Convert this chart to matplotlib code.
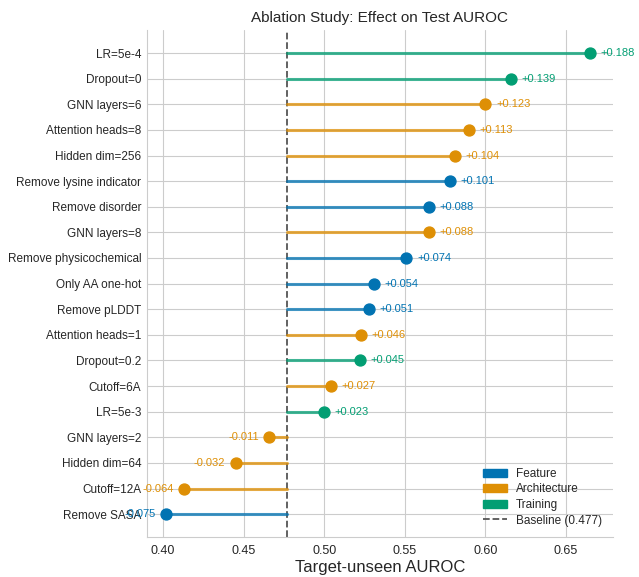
import numpy as np
import matplotlib
matplotlib.use("Agg")
import matplotlib.pyplot as plt
import seaborn as sns
from matplotlib.patches import Patch
from matplotlib.lines import Line2D

sns.set_style("whitegrid")
plt.rcParams['font.family'] = ['Liberation Sans', 'DejaVu Sans']

baseline = 0.477

# ablations, top to bottom
names = ["LR=5e-4", "Dropout=0", "GNN layers=6", "Attention heads=8", "Hidden dim=256",
         "Remove lysine indicator", "Remove disorder", "GNN layers=8", "Remove physicochemical",
         "Only AA one-hot", "Remove pLDDT", "Attention heads=1", "Dropout=0.2", "Cutoff=6A",
         "LR=5e-3", "GNN layers=2", "Hidden dim=64", "Cutoff=12A", "Remove SASA"]
deltas = [0.188, 0.139, 0.123, 0.113, 0.104, 0.101, 0.088, 0.088, 0.074, 0.054, 0.051,
          0.046, 0.045, 0.027, 0.023, -0.011, -0.032, -0.064, -0.075]
groups = ["Training", "Training", "Architecture", "Architecture", "Architecture",
          "Feature", "Feature", "Architecture", "Feature", "Feature", "Feature",
          "Architecture", "Training", "Architecture", "Training", "Architecture",
          "Architecture", "Architecture", "Feature"]

colors = {"Feature": "#0173b2", "Architecture": "#de8f05", "Training": "#029e73"}

fig = plt.figure(figsize=(6.39, 5.77), dpi=100)
ax = fig.add_axes([0.230, 0.069, 0.729, 0.879])

n = len(names)
ypos = np.arange(n)[::-1]
for y, d, g in zip(ypos, deltas, groups):
    val = baseline + d
    c = colors[g]
    ax.plot([baseline, val], [y, y], color=c, lw=2.2, alpha=0.75, zorder=2)
    ax.scatter(val, y, s=62, color=c, zorder=3)
    if d >= 0:
        ax.text(val + 0.0065, y, f"+{d:.3f}", color=c, fontsize=8, va="center", ha="left")
    else:
        ax.text(val - 0.0065, y, f"{d:.3f}", color=c, fontsize=8, va="center", ha="right")

ax.axvline(baseline, color="#555555", ls="--", lw=1.3, zorder=1)

ax.set_yticks(ypos)
ax.set_yticklabels(names, fontsize=8.5)
ax.tick_params(axis="y", pad=0.5)
ax.tick_params(axis="x", labelsize=9, pad=2)
ax.set_xlim(0.39, 0.679)
ax.set_xlabel("Target-unseen AUROC", fontsize=12, labelpad=2)
ax.set_title("Ablation Study: Effect on Test AUROC", fontsize=11)
sns.despine(ax=ax)

handles = [Patch(color=colors["Feature"], label="Feature"),
           Patch(color=colors["Architecture"], label="Architecture"),
           Patch(color=colors["Training"], label="Training"),
           Line2D([0], [0], color="#555555", ls="--", lw=1.3, label="Baseline (0.477)")]
ax.legend(handles=handles, loc="lower right", fontsize=8.5, frameon=False,
          labelspacing=0.3)

fig.savefig("out.png", dpi=100)
